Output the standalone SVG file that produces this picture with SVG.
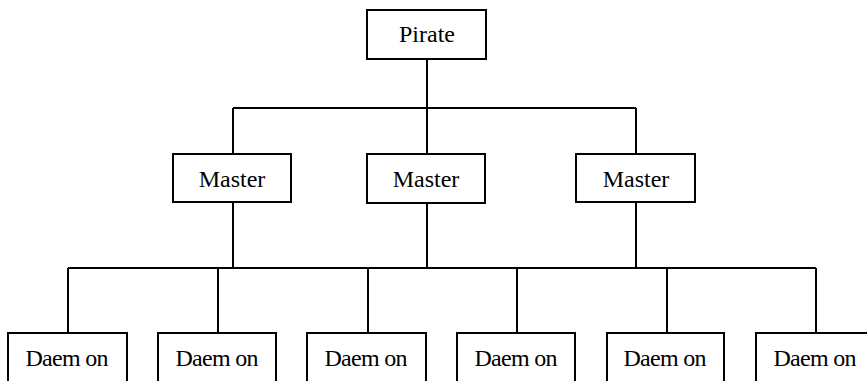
<svg xmlns="http://www.w3.org/2000/svg" width="867" height="381" viewBox="0 0 867 381">
<style>
.box{fill:#fff;stroke:#000;stroke-width:2}
.ln{fill:none;stroke:#000;stroke-width:2}
text{font-family:"Liberation Serif","Times New Roman",serif;font-size:24px;fill:#000;text-anchor:middle}
</style>
<rect width="867" height="381" fill="#fff"/>
<g id="connectors">
<path class="ln" d="M427 59V108M233 108H636M233 108V154M427 108V154M636 108V154"/>
<path class="ln" d="M233 202V268M427 203V268M636 202V268M68 268H816M68 268V333M218 268V333M368 268V333M517 268V333M667 268V333M816 268V333"/>
</g>
<g id="pirate"><rect class="box" x="367" y="10" width="119" height="49"/><text x="427" y="42">Pirate</text></g>
<g id="master1"><rect class="box" x="173" y="154" width="118" height="48"/><text x="232" y="187">Master</text></g>
<g id="master2"><rect class="box" x="367" y="154" width="118" height="49"/><text x="426" y="187">Master</text></g>
<g id="master3"><rect class="box" x="576" y="154" width="119" height="48"/><text x="636" y="187">Master</text></g>
<g id="daemon1"><rect class="box" x="8" y="333" width="119" height="60"/><text x="67" y="366" textLength="83" lengthAdjust="spacing">Daem on</text></g>
<g id="daemon2"><rect class="box" x="158" y="333" width="118" height="60"/><text x="217" y="366" textLength="83" lengthAdjust="spacing">Daem on</text></g>
<g id="daemon3"><rect class="box" x="307" y="333" width="119" height="60"/><text x="366" y="366" textLength="83" lengthAdjust="spacing">Daem on</text></g>
<g id="daemon4"><rect class="box" x="457" y="333" width="118" height="60"/><text x="516" y="366" textLength="83" lengthAdjust="spacing">Daem on</text></g>
<g id="daemon5"><rect class="box" x="607" y="333" width="117" height="60"/><text x="665" y="366" textLength="83" lengthAdjust="spacing">Daem on</text></g>
<g id="daemon6"><rect class="box" x="756" y="333" width="119" height="60"/><text x="815" y="366" textLength="83" lengthAdjust="spacing">Daem on</text></g>
</svg>
